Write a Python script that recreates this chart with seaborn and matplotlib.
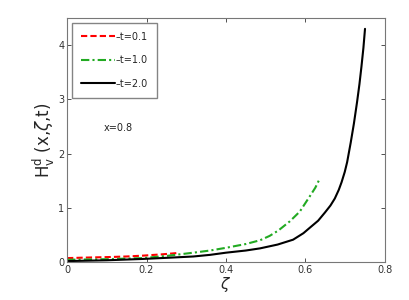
import numpy as np
import pandas as pd
import matplotlib
matplotlib.use('Agg')
import matplotlib.pyplot as plt
import seaborn as sns

sns.set_theme(style='white')
plt.rcParams['font.family'] = ['DejaVu Sans']

# --- data ---
zeta_t01 = [0.0, 0.05, 0.108, 0.15, 0.19, 0.24, 0.28]
h_t01 = [0.07, 0.08, 0.09, 0.10, 0.115, 0.14, 0.165]

zeta_t10 = [0.0, 0.1, 0.19, 0.25, 0.318, 0.36, 0.40, 0.45, 0.486, 0.51, 0.532,
            0.561, 0.586, 0.611, 0.625, 0.635]
h_t10 = [0.04, 0.05, 0.07, 0.11, 0.17, 0.21, 0.26, 0.33, 0.40, 0.48, 0.58,
         0.75, 0.93, 1.21, 1.37, 1.52]

zeta_t20 = [0.0, 0.1, 0.192, 0.25, 0.318, 0.36, 0.40, 0.45, 0.486, 0.53, 0.569,
            0.595, 0.611, 0.632, 0.649, 0.663, 0.674, 0.684, 0.691, 0.699, 0.705,
            0.714, 0.722, 0.730, 0.736, 0.741, 0.746, 0.750]
h_t20 = [0.015, 0.03, 0.055, 0.075, 0.10, 0.13, 0.17, 0.21, 0.25, 0.32, 0.41,
         0.53, 0.63, 0.76, 0.91, 1.04, 1.17, 1.33, 1.47, 1.66, 1.84,
         2.20, 2.55, 2.95, 3.28, 3.60, 3.95, 4.30]

labels = ['\u2013t=0.1', '\u2013t=1.0', '\u2013t=2.0']

df = pd.concat([
    pd.DataFrame({'zeta': zeta_t01, 'H': h_t01, 'series': labels[0]}),
    pd.DataFrame({'zeta': zeta_t10, 'H': h_t10, 'series': labels[1]}),
    pd.DataFrame({'zeta': zeta_t20, 'H': h_t20, 'series': labels[2]}),
])

fig = plt.figure(figsize=(4.09, 3.0), dpi=100)
ax = fig.add_axes([0.164, 0.127, 0.777, 0.813])

styles = {labels[0]: ('red', (0, (3, 1.5)), 1.5),
          labels[1]: ('#22aa22', (0, (4, 1.5, 1, 1.5)), 1.5),
          labels[2]: ('black', '-', 1.5)}
for lab in labels:
    c, ls, lw = styles[lab]
    sub = df[df['series'] == lab]
    sns.lineplot(data=sub, x='zeta', y='H', ax=ax, color=c, linestyle=ls,
                 linewidth=lw, label=lab, sort=False, estimator=None,
                 solid_joinstyle='round', dash_joinstyle='round')

ax.set_xlim(0, 0.8)
ax.set_ylim(0, 4.5)
ax.set_xticks([0, 0.2, 0.4, 0.6, 0.8])
ax.set_xticklabels(['0', '0.2', '0.4', '0.6', '0.8'])
ax.set_yticks([0, 1, 2, 3, 4])
ax.tick_params(direction='in', length=3, width=0.6, labelsize=7, colors='#333333',
               top=True, right=True, bottom=True, left=True, pad=2)
for s in ax.spines.values():
    s.set_color('#777777')
    s.set_linewidth(0.8)

ax.set_xlabel(r'$\zeta$', fontsize=11, labelpad=0)
ax.set_ylabel(r'H$_{\rm v}^{\rm d}$ (x,$\zeta$,t)', fontsize=12, labelpad=1)

ax.text(0.13, 2.47, 'x=0.8', fontsize=7, ha='center', va='center', color='#222222')

leg = ax.legend(loc='upper left', fontsize=7, frameon=True, fancybox=False,
                edgecolor='#666666', handlelength=3.5, handletextpad=0.1,
                labelspacing=1.4, borderpad=0.9, bbox_to_anchor=(0.0, 1.0))
leg.get_frame().set_linewidth(1.0)

fig.savefig('out.png', dpi=100)
